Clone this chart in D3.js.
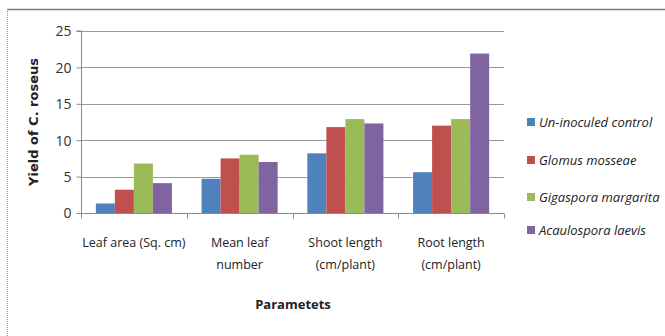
<!DOCTYPE html>
<html><head><meta charset="utf-8">
<script src="https://cdn.jsdelivr.net/npm/d3@7"></script>
<style>body{margin:0;background:#fff}svg{display:block}</style>
</head><body><svg id="c" width="665" height="336"></svg>
<script>
const categories = [["Leaf area (Sq. cm)"],["Mean leaf","number"],["Shoot length","(cm/plant)"],["Root length","(cm/plant)"]];
const seriesNames = ["Un-inoculed control","Glomus mosseae","Gigaspora margarita","Acaulospora laevis"];
const seriesColors = ["#4F81BD","#C0504D","#9BBB59","#8064A2"];
const control = [1.3, 4.7, 8.2, 5.6];
const glomus = [3.2, 7.5, 11.8, 12.0];
const gigaspora = [6.8, 8.0, 12.9, 12.9];
const acaulospora = [4.1, 7.0, 12.3, 21.9];
const yTicks = [0,5,10,15,20,25];
const values = [control, glomus, gigaspora, acaulospora];

const svg = d3.select("#c");
const L = 81, R = 504, T = 31, B = 213;
const font = "'Open Sans', 'Liberation Sans', sans-serif";

// frame
svg.append("line").attr("x1",7).attr("x2",665).attr("y1",9.5).attr("y2",9.5).attr("stroke","#7a7a7a").attr("stroke-width",1.5);
svg.append("line").attr("x1",7.5).attr("x2",7.5).attr("y1",9).attr("y2",336).attr("stroke","#999").attr("stroke-dasharray","1,1");

const x0 = d3.scaleBand().domain(d3.range(categories.length)).range([L,R]).paddingInner(0).paddingOuter(0);
const x1 = d3.scaleBand().domain(d3.range(seriesNames.length)).range([0,x0.bandwidth()]).paddingInner(0).paddingOuter(0.78);
const y = d3.scaleLinear().domain([0,25]).range([B,T]);

// gridlines
svg.append("g").selectAll("line").data(yTicks.filter(d=>d>0)).join("line")
  .attr("x1",L).attr("x2",R).attr("y1",d=>Math.round(y(d))+0.5).attr("y2",d=>Math.round(y(d))+0.5)
  .attr("stroke","#9a9a9a").attr("stroke-width",1);

// bars
const g = svg.append("g");
values.forEach((arr,si)=>{
  g.selectAll(".b"+si).data(arr).join("rect")
    .attr("x",(d,i)=>x0(i)+x1(si)).attr("width",x1.bandwidth())
    .attr("y",d=>y(d)).attr("height",d=>B-y(d)).attr("fill",seriesColors[si]);
});

// y axis
const yAxis = d3.axisLeft(y).tickValues(yTicks).tickSize(5).tickPadding(5);
const ya = svg.append("g").attr("transform",`translate(${L+0.5},0)`).call(yAxis);
ya.select(".domain").attr("stroke","#8a8a8a").attr("d",`M-5,${T}H0V${B}`);
ya.selectAll(".tick line").attr("stroke","#8a8a8a");
ya.selectAll(".tick text").attr("font-family",font).attr("font-size",14).attr("fill","#333").attr("dy","0.35em");

// x axis
const xa = svg.append("g").attr("transform",`translate(0,${B+0.5})`);
xa.append("line").attr("x1",L).attr("x2",R).attr("stroke","#8a8a8a");
xa.selectAll(".t").data(d3.range(categories.length+1)).join("line")
  .attr("x1",i=>Math.round(L+i*x0.bandwidth())+0.5).attr("x2",i=>Math.round(L+i*x0.bandwidth())+0.5)
  .attr("y1",0).attr("y2",5).attr("stroke","#8a8a8a");
const cl = svg.append("g");
categories.forEach((lines,i)=>{
  const t = cl.append("text").attr("x",x0(i)+x0.bandwidth()/2).attr("y",247).attr("text-anchor","middle")
    .attr("font-family",font).attr("font-size",12.5).attr("fill","#222");
  lines.forEach((ln,j)=>t.append("tspan").attr("x",x0(i)+x0.bandwidth()/2).attr("dy",j?22:0).text(ln));
});

// axis titles
svg.append("text").attr("x",293).attr("y",309).attr("text-anchor","middle")
  .attr("font-family",font).attr("font-weight","bold").attr("font-size",13).attr("fill","#222").text("Parametets");
svg.append("text").attr("transform","translate(38,122) rotate(-90)").attr("text-anchor","middle")
  .attr("font-family","'DejaVu Sans', sans-serif").attr("font-weight","bold").attr("font-size",13).attr("fill","#222").text("Yield of C. roseus");

// legend
const legY = [122,160,197,230];
const lg = svg.append("g");
seriesNames.forEach((n,i)=>{
  lg.append("rect").attr("x",527).attr("y",legY[i]-4).attr("width",8).attr("height",8).attr("fill",seriesColors[i]);
  lg.append("text").attr("x",539).attr("y",legY[i]).attr("dy","0.35em").attr("font-family",font)
    .attr("font-style","italic").attr("font-size",13).attr("fill","#222").text(n);
});
</script></body></html>
